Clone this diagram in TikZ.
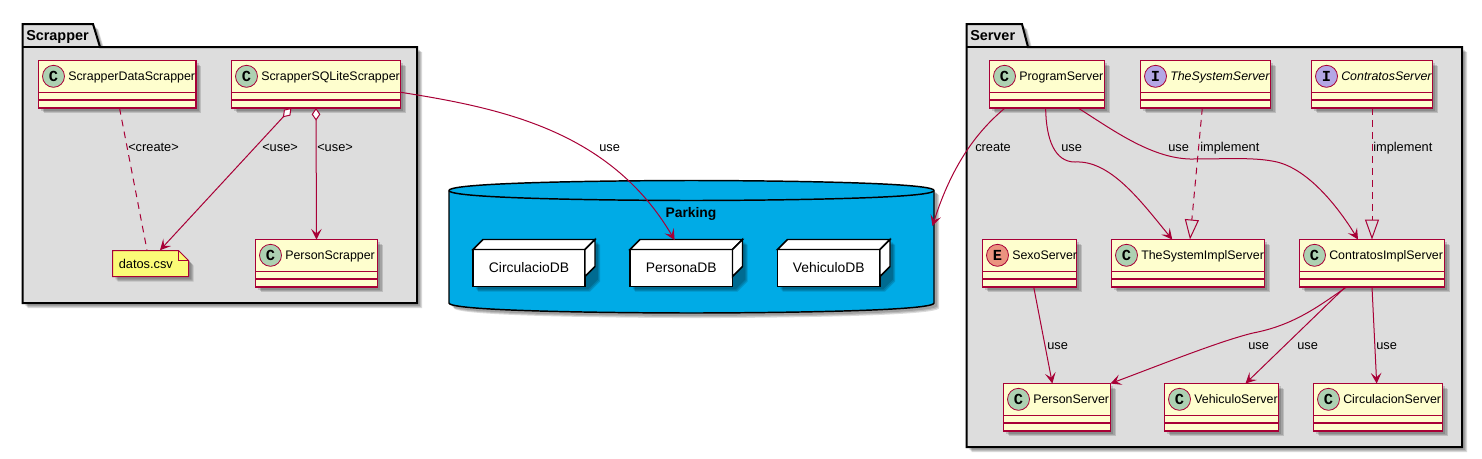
\documentclass[tikz,border=0pt]{standalone}
\usepackage{fontspec}
\setmainfont{Liberation Sans}
\newfontfamily\glyphfont{Liberation Mono}[Scale=1]
\usetikzlibrary{arrows.meta}
\definecolor{umlred}{HTML}{A80036}
\definecolor{umlcream}{HTML}{FEFECE}
\definecolor{umlnote}{HTML}{FBFB77}
\definecolor{umlgray}{HTML}{DDDDDD}
\definecolor{umlblue}{HTML}{00ABE6}
\definecolor{spotc}{HTML}{ADD1B2}
\definecolor{spoti}{HTML}{B4A7E5}
\definecolor{spote}{HTML}{EB937F}
\tikzset{
	softshadow/.style={
		preaction={draw=none,fill=black,opacity=.14,transform canvas={shift={(2.2pt,-2.2pt)}}},
		preaction={draw=none,fill=black,opacity=.14,transform canvas={shift={(3pt,-3pt)}}},
		preaction={draw=none,fill=black,opacity=.14,transform canvas={shift={(3.8pt,-3.8pt)}}}},
	classbox/.style={draw=umlred,fill=umlcream,line width=1.1pt,inner sep=0pt,outer sep=0pt,softshadow},
	classline/.style={draw=umlred,line width=1.1pt},
	spot/.style={circle,draw=umlred,line width=.6pt,minimum size=16.5pt,inner sep=0pt,font=\glyphfont\bfseries\fontsize{11.5}{12}\selectfont},
	classname/.style={anchor=base west,inner sep=0pt,font=\fontsize{9.3}{11}\selectfont},
	edgelabel/.style={anchor=base west,inner sep=0pt,font=\fontsize{9.6}{11}\selectfont},
	pkgtitle/.style={anchor=base west,inner sep=0pt,font=\bfseries\fontsize{10.8}{12}\selectfont},
	pkgbox/.style={draw=black,fill=umlgray,line width=1.5pt,softshadow},
	dbnode/.style={draw=black,fill=white,line width=1.1pt,inner sep=0pt,outer sep=0pt,font=\fontsize{10.4}{12}\selectfont},
	uses/.style={draw=umlred,line width=.75pt,-{Stealth[length=8pt,width=8pt,inset=3.5pt]}},
	owns/.style={draw=umlred,line width=.75pt,{Diamond[open,fill=white,length=9.5pt,width=6.5pt]}-{Stealth[length=8pt,width=8pt,inset=3.5pt]}},
	links/.style={draw=umlred,line width=.75pt,dash pattern=on 5pt off 4pt},
	realizes/.style={draw=umlred,line width=.75pt,dash pattern=on 5pt off 4pt,-{Triangle[open,length=15pt,width=10.5pt]}},
}
% name, left, right, top, letter, spot colour, text
\newcommand{\umlclass}[7]{
	\node[classbox,minimum width={(#3-#2)*0.75pt},minimum height=35.6pt] (#1) at ({(#2+#3)/2},{#4+23.75}) {};
	\draw[classline] (#2,#4+32) -- (#3,#4+32);
	\draw[classline] (#2,#4+39.5) -- (#3,#4+39.5);
	\node[spot,fill=#6] (#1-spot) at (#2+15,#4+15.8) {#5};
	\node[classname] (#1-name) at (#2+29.5,#4+20.3) {#7};
}
% name, left, right, text
\newcommand{\umlbox}[4]{
	\path[softshadow] (#2,249.5) -- ++(10,-10) -- (#3+10,239.5) -- (#3+10,276.5) -- (#3,286.5) -- (#2,286.5) -- cycle;
	\node[dbnode,minimum width={(#3-#2)*0.75pt},minimum height=27.75pt] (#1) at ({(#2+#3)/2},268) {#4};
	\draw[line width=1.1pt,fill=white] (#1.north west) -- ++(10,-10) -- ++(#3-#2,0) -- ++(-10,10) -- cycle;
	\draw[line width=1.1pt,fill=white] (#1.north east) -- ++(10,-10) -- ++(0,27) -- ++(-10,10) -- cycle;
}
\begin{document}
\begin{tikzpicture}[x=0.75pt,y=-0.75pt]
	\useasboundingbox (0,0) rectangle (1482,458);
	% packages
	\draw[pkgbox] (22.5,47) -- (22.5,24) -- (93,24) -- (100,47) -- (417,47) -- (417,303) -- (22.5,303) -- cycle;
	\draw[line width=1.5pt] (22.5,47) -- (100,47);
	\node[pkgtitle] (scrapper) at (26,40.5) {Scrapper};
	\draw[pkgbox] (966.5,47) -- (966.5,24) -- (1022,24) -- (1028,47) -- (1462,47) -- (1462,447) -- (966.5,447) -- cycle;
	\draw[line width=1.5pt] (966.5,47) -- (1028,47);
	\node[pkgtitle] (server) at (970,40.5) {Server};
	% database
	\draw[draw=black,fill=umlblue,line width=1.1pt,softshadow] (449,190.5) .. controls (449,180.5) and (691.5,180.5) .. (691.5,180.5) .. controls (691.5,180.5) and (934,180.5) .. (934,190.5) -- (934,303) .. controls (934,313) and (691.5,313) .. (691.5,313) .. controls (691.5,313) and (449,313) .. (449,303) -- cycle;
	\draw[line width=1.1pt] (449,190.5) .. controls (449,200.5) and (691.5,200.5) .. (691.5,200.5) .. controls (691.5,200.5) and (934,200.5) .. (934,190.5);
	\node[anchor=base,inner sep=0pt,font=\bfseries\fontsize{10.4}{12}\selectfont] (parking) at (691,217) {Parking};
	\coordinate (parkingside) at (932.5,226);
	\umlbox{circulaciodb}{473}{585}{CirculacioDB}
	\umlbox{personadb}{630}{732.5}{PersonaDB}
	\umlbox{vehiculodb}{777.5}{880}{VehiculoDB}
	% scrapper classes
	\umlclass{scrapperdata}{38.5}{196}{60.5}{C}{spotc}{ScrapperDataScrapper}
	\umlclass{scrappersqlite}{231.5}{400.5}{60.5}{C}{spotc}{ScrapperSQLiteScrapper}
	\umlclass{personscrapper}{255.5}{377.5}{239.5}{C}{spotc}{PersonScrapper}
	\draw[softshadow,draw=umlred,fill=umlnote,line width=.75pt] (112.5,250.5) -- (178.5,250.5) -- (188.5,260.5) -- (188.5,276.5) -- (112.5,276.5) -- cycle;
	\draw[draw=umlred,line width=.75pt] (178.5,250.5) -- (178.5,260.5) -- (188.5,260.5);
	\node[inner sep=0pt,minimum width=57pt,minimum height=19.5pt] (datos) at (150.5,263.5) {};
	\node[edgelabel] (datos-name) at (118.5,268) {datos.csv};
	% server classes
	\umlclass{programserver}{989.5}{1104.5}{60.5}{C}{spotc}{ProgramServer}
	\umlclass{thesystem}{1140.5}{1270.5}{60.5}{I}{spoti}{\itshape TheSystemServer}
	\umlclass{contratos}{1311.5}{1432.5}{60.5}{I}{spoti}{\itshape ContratosServer}
	\umlclass{sexoserver}{982.5}{1076.5}{239.5}{E}{spote}{SexoServer}
	\umlclass{thesystemimpl}{1111.5}{1264.5}{239.5}{C}{spotc}{TheSystemImplServer}
	\umlclass{contratosimpl}{1299.5}{1444.5}{239.5}{C}{spotc}{ContratosImplServer}
	\umlclass{personserver}{1003.5}{1110.5}{383.5}{C}{spotc}{PersonServer}
	\umlclass{vehiculoserver}{1164.5}{1278.5}{383.5}{C}{spotc}{VehiculoServer}
	\umlclass{circulacionserver}{1313.5}{1442.5}{383.5}{C}{spotc}{CirculacionServer}
	% scrapper connectors
	\draw[links] ([xshift=1.7pt]scrapperdata.south) -- ([xshift=-2.6pt]datos.north);
	\draw[owns] ([xshift=-18.4pt]scrappersqlite.south) -- ([xshift=7.1pt]datos.north);
	\draw[owns] (scrappersqlite.south) -- (personscrapper.north);
	\draw[uses] ([yshift=-6pt]scrappersqlite.east) .. controls (500,108) and (610,130) .. ([xshift=-5pt]personadb.north |- 0,240);
	% server connectors
	\draw[uses] ([xshift=-31.5pt]programserver.south) .. controls (985,125) and (955,155) .. (parkingside);
	\draw[uses] ([xshift=-1pt]programserver.south) .. controls (1046,140) and (1055,162) .. (1075,162) .. controls (1110,160) and (1140,200) .. ([xshift=-11.8pt]thesystemimpl.north);
	\draw[uses] ([xshift=23.25pt]programserver.south) .. controls (1110,128) and (1150,158) .. (1190,159) .. controls (1230,159) and (1255,157) .. (1277,162) .. controls (1310,170) and (1340,210) .. ([xshift=-10.5pt]contratosimpl.north);
	\draw[realizes] ([xshift=-2.4pt]thesystem.south) -- ([xshift=1.5pt]thesystemimpl.north);
	\draw[realizes] (contratos.south) -- (contratosimpl.north);
	\draw[uses] ([xshift=3.15pt]sexoserver.south) -- ([xshift=-3.5pt]personserver.north);
	\draw[uses] ([xshift=-19pt]contratosimpl.south) .. controls (1320,305) and (1295,325) .. (1253,333) .. controls (1220,341) and (1160,365) .. (personserver.north east);
	\draw[uses] ([xshift=-20pt]contratosimpl.south) -- ([xshift=18pt]vehiculoserver.north);
	\draw[uses] (contratosimpl.south) -- ([xshift=-1pt]circulacionserver.north);
	% labels
	\node[edgelabel] (lcreate) at (128,151.5) {<create>};
	\node[edgelabel] (luse1) at (262,151.5) {<use>};
	\node[edgelabel] (luse2) at (317,151.5) {<use>};
	\node[edgelabel] (luse3) at (599,151.5) {use};
	\node[edgelabel] (lcreate2) at (975,151.5) {create};
	\node[edgelabel] (luse4) at (1061,151.5) {use};
	\node[edgelabel] (luse5) at (1168,151.5) {use};
	\node[edgelabel] (limpl1) at (1200,151.5) {implement};
	\node[edgelabel] (limpl2) at (1373,151.5) {implement};
	\node[edgelabel] (luse6) at (1047,349.5) {use};
	\node[edgelabel] (luse7) at (1248,349.5) {use};
	\node[edgelabel] (luse8) at (1297,349.5) {use};
	\node[edgelabel] (luse9) at (1376,349.5) {use};
\end{tikzpicture}
\end{document}
